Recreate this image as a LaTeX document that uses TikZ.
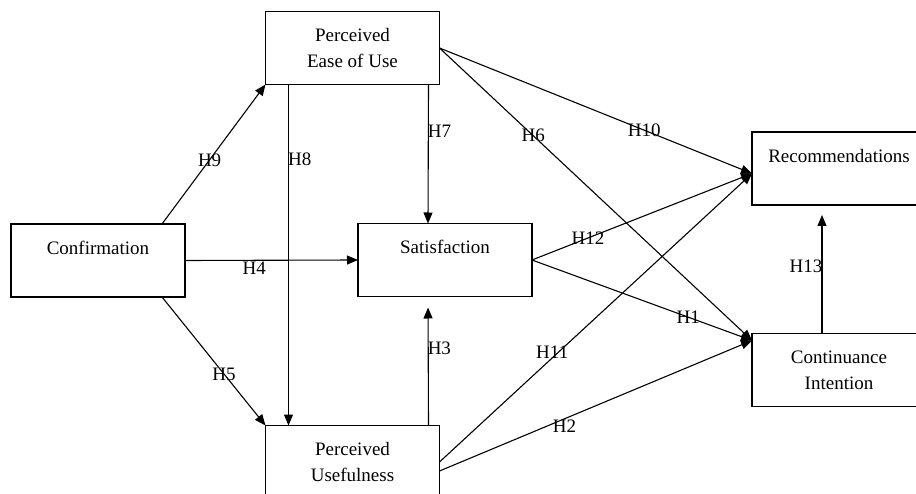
\documentclass[tikz,border=0pt]{standalone}
\usepackage{fontspec}
\setmainfont{Liberation Serif}
\usetikzlibrary{arrows.meta}

\begin{document}
\begin{tikzpicture}[x=1pt,y=-1pt,->,>={Triangle[length=11pt,width=9pt]},line width=1.1pt,main node/.style={draw,rectangle,minimum width=174pt,minimum height=73pt,inner sep=0pt,outer sep=0pt,align=center,font=\fontsize{19}{26}\selectfont},hyp/.style={font=\fontsize{19}{22}\selectfont,inner sep=1pt}]
  \clip (0,0) rectangle (916,494);
  \node[main node] (conf) at (98,260.5) {Confirmation\\\mbox{}};
  \node[main node] (peou) at (352.5,48) {Perceived\\Ease of Use};
  \node[main node] (sat) at (445,260) {Satisfaction\\\mbox{}};
  \node[main node] (pu) at (352.5,462) {Perceived\\Usefulness};
  \node[main node] (rec) at (839,168.5) {Recommendations\\\mbox{}};
  \node[main node] (ci) at (839,370) {Continuance\\Intention};
  \coordinate (rin) at ([yshift=-5pt]rec.west);
  \coordinate (cin) at ([yshift=-7pt]ci.north west);

\path[every node/.style=hyp]
  ([xshift=64pt]conf.north) edge node[pos=.46] {H9} (peou.south west)
  ([xshift=64pt]conf.south) edge node[pos=.6] {H5} (pu.north west)
  (conf.east) edge node[pos=.4,anchor=north] {H4} (sat.west)
  ([xshift=23pt]peou.south west) edge node[pos=.22,anchor=west,xshift=-2pt] {H8} ([xshift=23pt]pu.north west)
  ([xshift=-11pt]peou.south east) edge node[pos=.34,anchor=west,xshift=-2pt] {H7} ([xshift=70pt]sat.north west)
  ([xshift=-11pt]pu.north east) edge[shorten >=11pt] node[pos=.6,anchor=west,xshift=-2pt] {H3} ([xshift=70pt]sat.south west)
  (peou.east) edge node[pos=.655] {H10} (rin)
  (peou.east) edge node[pos=.3] {H6} (cin)
  (sat.east) edge node[pos=.255] {H12} (rin)
  (sat.east) edge node[pos=.71] {H1} (cin)
  (pu.east) edge node[pos=.38,xshift=-6pt] {H11} (rin)
  ([yshift=-9pt]pu.east) edge node[pos=.4,anchor=north] {H2} (cin)
  ([xshift=70pt]ci.north west) edge[shorten >=10pt] node[pos=.52,anchor=east,xshift=2pt] {H13} ([xshift=70pt]rec.south west)
;
\end{tikzpicture}
\end{document}
